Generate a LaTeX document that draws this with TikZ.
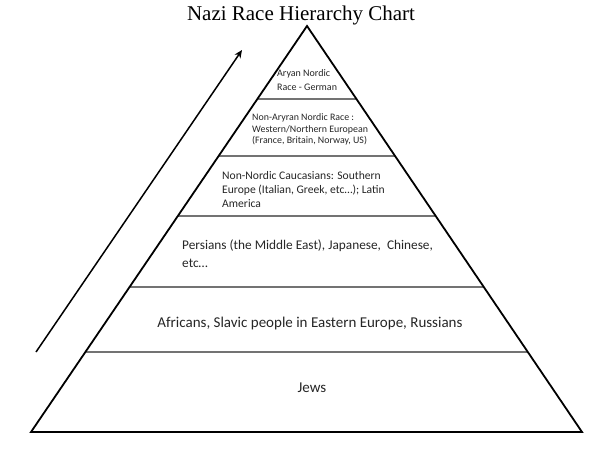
\documentclass[tikz,border=0pt]{standalone}
\usepackage{fontspec}
\setmainfont{Carlito}
\newfontfamily\titlefont{Liberation Serif}
\usetikzlibrary{arrows.meta,calc}
\tikzset{
  outline/.style={draw=black,line width=1.8pt,line join=miter},
  divider/.style={draw=black!55,line width=1.2pt},
  lvl/.style={inner sep=0pt,align=left,anchor=west,text=black!85},
  lvlc/.style={inner sep=0pt,align=center,text=black!85},
  arrowline/.style={draw=black,line width=1.5pt,-{Stealth[length=8pt,width=7pt]}}
}
\begin{document}
\begin{tikzpicture}[x=1pt,y=-1pt]
\useasboundingbox (0,0) rectangle (602,452);
\fill[white] (0,0) rectangle (602,452);
\coordinate (apex) at (307,26);
\coordinate (bl) at (31,432);
\coordinate (br) at (582,432);
% dividers
\foreach \t/\n in {0.1798/a,0.3202/b,0.468/c,0.6429/d,0.803/e}{
  \coordinate (l\n) at ($(apex)!\t!(bl)$);
  \coordinate (r\n) at ($(apex)!\t!(br)$);
}
\draw[divider] (la) -- (ra);
\draw[divider] (lb) -- (rb);
\draw[divider] (lc) -- (rc);
\draw[divider] (ld) -- (rd);
\draw[divider] (le) -- (re);
\draw[outline] (apex) -- (bl) -- (br) -- cycle;
% title
\node[inner sep=0pt,font=\titlefont\fontsize{21}{24}\selectfont] (title) at (301,15) {Nazi Race Hierarchy Chart};
% arrow
\coordinate (as) at (36,352);
\coordinate (ae) at (242,50);
\draw[arrowline] (as) -- (ae);
% texts
\node[lvl,font=\fontsize{10}{14}\selectfont] (t1) at (277,80) {Aryan Nordic\\Race - German};
\node[lvl,font=\fontsize{9.9}{11.6}\selectfont] (t2) at (252,129.5) {Non-Aryran Nordic Race :\\Western/Northern European\\(France, Britain, Norway, US)};
\node[lvl,font=\fontsize{11.6}{14}\selectfont] (t3) at (222,190) {Non-Nordic Caucasians: Southern\\Europe (Italian, Greek, etc\dots); Latin\\America};
\node[lvl,font=\fontsize{13.3}{18}\selectfont] (t4) at (182,254) {Persians (the Middle East), Japanese,\ \ Chinese,\\etc\dots};
\node[lvlc,font=\fontsize{15}{18}\selectfont] (t5) at (310,323) {Africans, Slavic people in Eastern Europe, Russians};
\node[lvlc,font=\fontsize{15}{18}\selectfont] (t6) at (312,388) {Jews};
\end{tikzpicture}
\end{document}
